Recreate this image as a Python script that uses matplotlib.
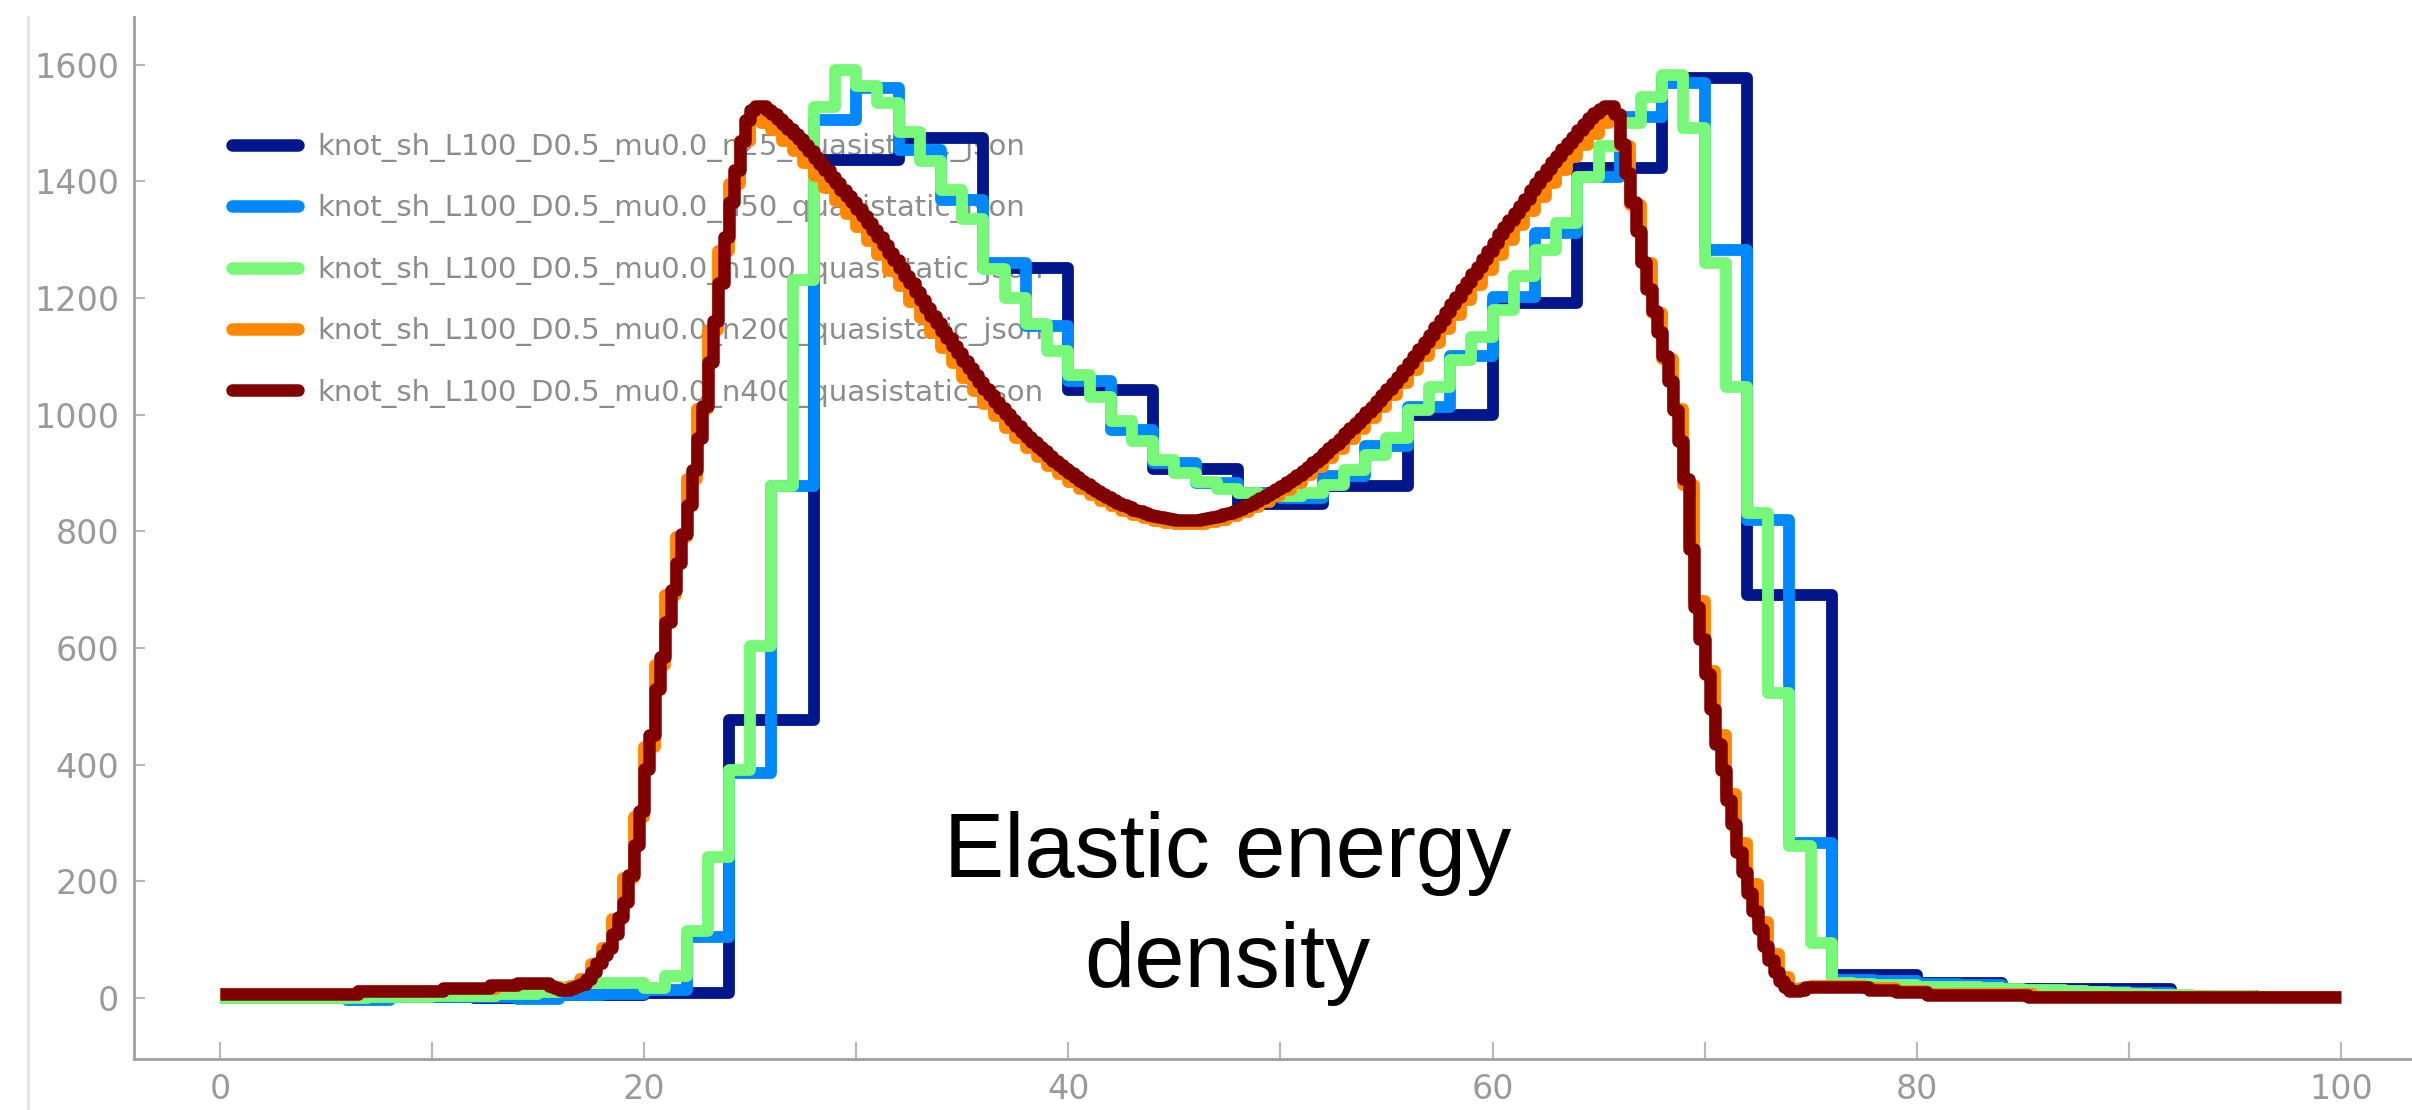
import numpy as np
import matplotlib
matplotlib.use('Agg')
import matplotlib.pyplot as plt
from matplotlib.lines import Line2D

labels = [
    'knot_sh_L100_D0.5_mu0.0_n25_quasistatic_json',
    'knot_sh_L100_D0.5_mu0.0_n50_quasistatic_json',
    'knot_sh_L100_D0.5_mu0.0_n100_quasistatic_json',
    'knot_sh_L100_D0.5_mu0.0_n200_quasistatic_json',
    'knot_sh_L100_D0.5_mu0.0_n400_quasistatic_json',
]

# energy density per segment (segments spread evenly over 0..100)
n25 = [0, 0, 1, 0, 4, 8, 477, 1437, 1474, 1251, 1043, 906, 846,
       877, 1000, 1191, 1423, 1577, 691, 39, 25, 15, 15, 3, 1]

n50 = [0, 0, 0, -3, 1, 2, 2, -2, 4, 6,
       14, 105, 385, 877, 1505, 1560, 1454, 1369, 1260, 1152,
       1057, 974, 917, 883, 866, 857, 894, 946, 1014, 1100,
       1202, 1311, 1408, 1511, 1568, 1282, 819, 265, 30, 28,
       24, 22, 14, 12, 10, 8, 3, 3, 2, 2]

n100 = [0, 0, 0, 0, 0, 0, 0, 1, 1, 1,
        3, 3, 3, 6, 6, 10, 18, 25, 25, 25,
        17, 37, 114, 242, 391, 603, 877, 1231, 1528, 1591,
        1563, 1535, 1485, 1435, 1385, 1335, 1250, 1200, 1155, 1110,
        1068, 1030, 990, 955, 922, 900, 884, 872, 865, 862,
        860, 866, 880, 905, 930, 960, 1008, 1048, 1094, 1134,
        1180, 1237, 1282, 1328, 1408, 1460, 1500, 1545, 1583, 1491,
        1260, 1048, 831, 523, 260, 94, 25, 24, 22, 22,
        19, 19, 18, 16, 15, 14, 13, 12, 10, 8,
        6, 4, 4, 3, 3, 3, 2, 2, 2, 2]

n200 = [6, 6, 6, 6, 6, 6, 6, 6, 6, 6,
        6, 6, 6, 11, 11, 11, 11, 11, 11, 11,
        11, 15, 15, 15, 15, 15, 21, 21, 24, 24,
        24, 18, 15, 20, 32, 58, 85, 135, 205, 310,
        430, 570, 690, 790, 890, 1010, 1145, 1280, 1395, 1470,
        1505, 1500, 1488, 1470, 1452, 1432, 1410, 1388, 1366, 1344,
        1322, 1298, 1273, 1247, 1220, 1193, 1166, 1140, 1114, 1088,
        1063, 1040, 1018, 997, 978, 960, 943, 927, 912, 898,
        885, 873, 862, 852, 843, 835, 828, 822, 817, 814,
        812, 812, 813, 816, 820, 826, 833, 841, 850, 860,
        871, 883, 896, 910, 925, 941, 958, 976, 995, 1014,
        1034, 1055, 1077, 1100, 1123, 1147, 1171, 1196, 1222, 1248,
        1274, 1300, 1325, 1350, 1374, 1398, 1420, 1442, 1462, 1482,
        1500, 1503, 1460, 1360, 1260, 1175, 1095, 1010, 880, 680,
        560, 450, 350, 265, 195, 130, 75, 35, 15, 16,
        20, 20, 20, 20, 20, 16, 16, 16, 12, 12,
        12, 7, 7, 7, 7, 7, 7, 7, 7, 7,
        7, 2, 2, 2, 2, 2, 2, 2, 2, 2,
        2, 2, 2, 2, 2, 2, 2, 2, 2, 2,
        2, 2, 2, 2, 2, 2, 2, 2, 2, 2]

n400 = [6, 6, 6, 6, 6, 6, 6, 6, 6, 6, 6, 6, 6, 7, 7, 7, 7, 7, 7, 7,
        7, 7, 7, 7, 7, 7, 12, 12, 12, 12, 12, 12, 12, 12, 12, 12, 12, 12, 12, 12,
        12, 12, 16, 16, 16, 16, 16, 16, 16, 16, 16, 22, 22, 22, 22, 22, 26, 26, 26, 26,
        26, 26, 20, 16, 13, 14, 17, 20, 24, 32, 45, 60, 73, 86, 110, 138, 165, 210, 262, 320,
        392, 450, 530, 585, 645, 700, 745, 795, 845, 905, 960, 1015, 1090, 1160, 1225, 1305, 1365, 1420, 1470, 1505,
        1522, 1530, 1529, 1522, 1515, 1507, 1498, 1490, 1481, 1472, 1462, 1452, 1441, 1430, 1419, 1408, 1397, 1386, 1375, 1364,
        1352, 1340, 1328, 1316, 1304, 1291, 1278, 1265, 1252, 1238, 1225, 1211, 1197, 1183, 1170, 1157, 1144, 1131, 1118, 1105,
        1092, 1080, 1068, 1056, 1044, 1033, 1022, 1011, 1001, 991, 981, 971, 962, 953, 945, 937, 929, 921, 914, 907,
        900, 893, 887, 881, 875, 869, 864, 859, 854, 849, 845, 841, 837, 834, 831, 828, 826, 824, 822, 821,
        820, 819, 819, 819, 820, 821, 822, 824, 826, 829, 832, 835, 839, 843, 847, 852, 857, 862, 867, 872,
        878, 884, 890, 897, 904, 911, 918, 926, 934, 942, 950, 959, 968, 977, 986, 995, 1004, 1014, 1024, 1034,
        1044, 1054, 1065, 1076, 1088, 1100, 1112, 1124, 1137, 1150, 1163, 1176, 1189, 1202, 1215, 1228, 1241, 1254, 1267, 1281,
        1295, 1310, 1322, 1334, 1346, 1358, 1370, 1385, 1398, 1410, 1422, 1433, 1444, 1455, 1466, 1477, 1488, 1499, 1509, 1518,
        1525, 1530, 1529, 1515, 1465, 1415, 1365, 1315, 1262, 1215, 1178, 1142, 1100, 1058, 1008, 955, 890, 770, 670, 615,
        555, 495, 435, 390, 340, 298, 250, 215, 180, 148, 118, 88, 65, 45, 28, 18, 12, 11, 14, 18,
        19, 19, 19, 19, 19, 19, 19, 19, 19, 19, 19, 14, 14, 14, 14, 14, 10, 10, 10, 10,
        10, 10, 5, 5, 5, 5, 5, 5, 5, 5, 5, 5, 5, 5, 5, 5, 5, 5, 5, 5,
        5, 1, 1, 1, 1, 1, 1, 1, 1, 1, 1, 1, 1, 1, 1, 1, 1, 1, 1, 1,
        1, 1, 1, 1, 1, 1, 1, 1, 1, 1, 1, 1, 1, 1, 1, 1, 1, 1, 1, 1,
        1, 1, 1, 1, 1, 1, 1, 1, 1, 1, 1, 1, 1, 1, 1, 1, 1, 1, 1, 1]

xticks = [0, 20, 40, 60, 80, 100]
yticks = [0, 200, 400, 600, 800, 1000, 1200, 1400, 1600]

series = [n25, n50, n100, n200, n400]
colors = ['#00168a', '#0088ff', '#78f878', '#ff8800', '#800000']

fig = plt.figure(figsize=(24.12, 11.10), dpi=100)
ax = fig.add_axes([134 / 2412, 51 / 1110, 1 - 134 / 2412, 1042 / 1110])

for k, (vals, col) in enumerate(zip(series, colors)):
    edges = np.linspace(0, 100, len(vals) + 1)
    ax.stairs(vals, edges, baseline=None, color=col, lw=8.5 if k < 4 else 9,
              joinstyle='round', zorder=2 + k)

ax.set_xlim(-4.05, 103.35)
ax.set_ylim(-105, 1682)
ax.set_xticks(xticks)
ax.set_xticks([10, 30, 50, 70, 90], minor=True)
ax.set_yticks(yticks)

for s in ['top', 'right']:
    ax.spines[s].set_visible(False)
for s in ['left', 'bottom']:
    ax.spines[s].set_color('#a0a0a0')
    ax.spines[s].set_linewidth(2)

ax.tick_params(which='both', direction='in', color='#b8b8b8', labelcolor='#9a9a9a',
               labelsize=24, width=1.5)
ax.tick_params(axis='x', which='both', length=12, pad=10)
ax.tick_params(axis='y', length=8, pad=10.5)

handles = [Line2D([], [], color=c, lw=9, solid_capstyle='round') for c in colors]
leg = ax.legend(handles, labels, loc='upper left',
                bbox_to_anchor=(232 / 2412, 1 - 133 / 1110), bbox_transform=fig.transFigure,
                frameon=False, prop=dict(family='DejaVu Sans', size=21),
                handlelength=2.26, handletextpad=0.68, labelspacing=1.11,
                borderpad=0, borderaxespad=0)
for t in leg.get_texts():
    t.set_color('#8c8c8c')
leg.set_zorder(1)

ax.text(47.5, 19, 'Elastic energy\ndensity', ha='center', va='baseline',
        fontsize=65, family='Liberation Sans', linespacing=1.38, zorder=10)

# faint border line at the left edge of the screenshot
fig.add_artist(Line2D([28 / 2412] * 2, [0, 1 - 17 / 1110], transform=fig.transFigure,
                      color='#e4e4e4', lw=2))

fig.savefig('out.png', dpi=100)
